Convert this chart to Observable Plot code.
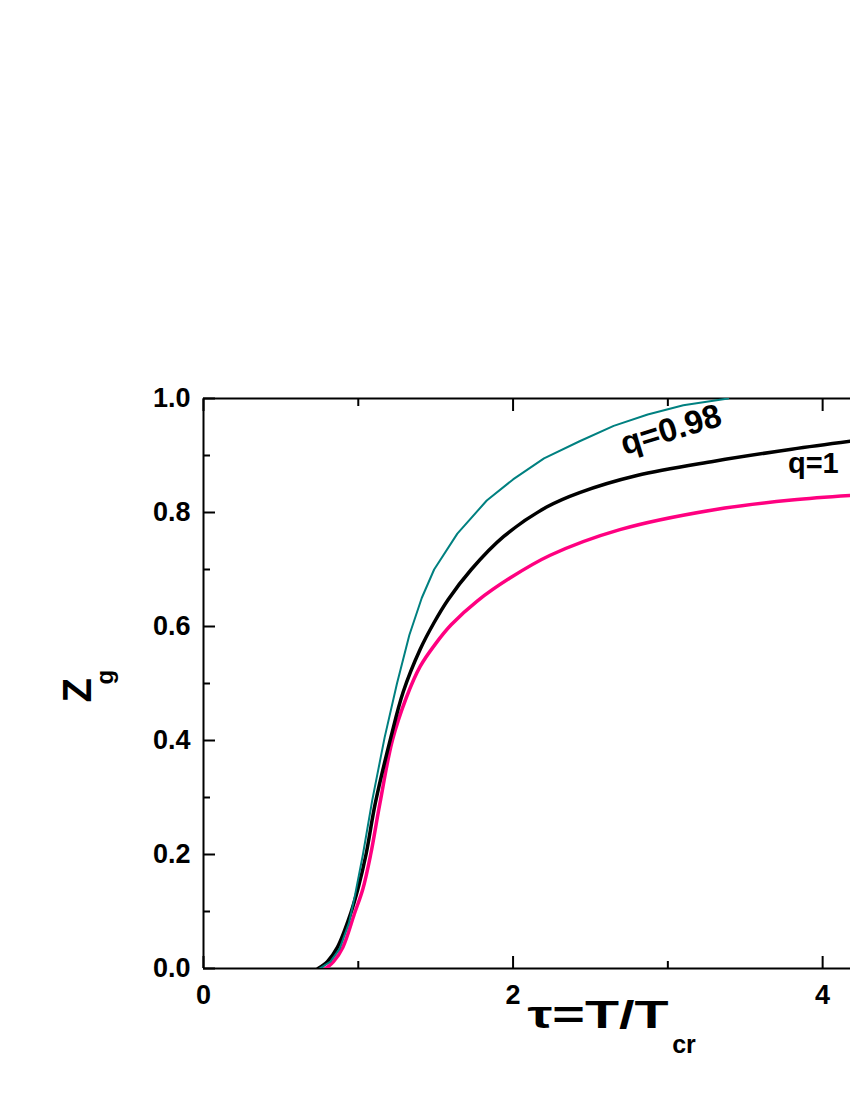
<!DOCTYPE html>
<html><head><meta charset="utf-8">
<script src="https://cdn.jsdelivr.net/npm/d3@7"></script>
<script src="https://cdn.jsdelivr.net/npm/@observablehq/plot@0.6"></script>
<style>body{margin:0;background:#fff}</style>
</head><body><div id="chart"></div>
<script>
// q = 0.98 (teal)
const tauTeal = [0.75,0.82,0.88,0.94,0.98,1.03,1.09,1.17,1.25,1.33,1.41,1.49,1.64,1.83,2.0,2.2,2.43,2.65,2.87,3.1,3.39];
const zTeal   = [0,0.012,0.035,0.08,0.13,0.2,0.295,0.405,0.5,0.585,0.65,0.7,0.763,0.821,0.858,0.895,0.925,0.952,0.972,0.988,1.0];
// q = 1 (black)
const tauBlack = [0.74,0.8,0.865,0.95,1.0,1.05,1.11,1.21,1.29,1.4,1.49,1.58,1.73,1.94,2.22,2.43,2.8,3.3,3.8,4.18];
const zBlack   = [0,0.012,0.037,0.096,0.142,0.2,0.29,0.405,0.485,0.56,0.607,0.647,0.7,0.758,0.81,0.835,0.865,0.89,0.911,0.925];
// third curve (pink)
const tauPink = [0.79,0.84,0.9,0.975,1.03,1.08,1.14,1.22,1.31,1.4,1.5,1.6,1.77,1.98,2.24,2.69,3.3,3.8,4.18];
const zPink   = [0,0.012,0.037,0.096,0.14,0.2,0.29,0.4,0.475,0.53,0.57,0.603,0.645,0.685,0.725,0.77,0.805,0.822,0.83];

const xMajor = [0,2,4];
const xMinor = [1,3];
const yMajor = [0,0.2,0.4,0.6,0.8,1.0];
const yMinor = [0.1,0.3,0.5,0.7,0.9];

const labels = [
  {tau: 3.02, z: 0.945, text: "q=0.98", rotate: -17, size: 33},
  {tau: 3.94, z: 0.886, text: "q=1", rotate: 0, size: 29}
];

const toRows = (ts, zs) => ts.map((t, i) => ({tau: t, z: zs[i]}));
const font = "'Liberation Sans', Arial, sans-serif";

const chart = Plot.plot({
  width: 850, height: 1100,
  marginLeft: 203, marginRight: 0, marginTop: 398, marginBottom: 132,
  x: {domain: [0, 4.18]},
  y: {domain: [0, 1]},
  style: {fontFamily: font, background: "white", color: "black"},
  marks: [
    Plot.ruleY([0, 1], {stroke: "black", strokeWidth: 2}),
    Plot.ruleX([0], {stroke: "black", strokeWidth: 2}),
    Plot.axisX({ticks: xMajor, anchor: "bottom", tickSize: -12, fill: "none", strokeWidth: 2, label: null}),
    Plot.axisX({ticks: xMinor, anchor: "bottom", tickSize: -7, fill: "none", strokeWidth: 2, label: null}),
    Plot.axisX({ticks: xMajor, anchor: "top", tickSize: -12, fill: "none", strokeWidth: 2, label: null}),
    Plot.axisX({ticks: xMinor, anchor: "top", tickSize: -7, fill: "none", strokeWidth: 2, label: null}),
    Plot.axisY({ticks: yMajor, anchor: "left", tickSize: -12, fill: "none", strokeWidth: 2, label: null}),
    Plot.axisY({ticks: yMinor, anchor: "left", tickSize: -7, fill: "none", strokeWidth: 2, label: null}),
    Plot.axisX({ticks: xMajor, anchor: "bottom", tickSize: 0, tickPadding: 16, fontSize: 27, fontWeight: "bold", label: null, tickFormat: d3.format("d")}),
    Plot.axisY({ticks: yMajor, anchor: "left", tickSize: 0, tickPadding: 13, fontSize: 27, fontWeight: "bold", label: null, tickFormat: d3.format(".1f")}),
    Plot.line(toRows(tauPink, zPink), {x: "tau", y: "z", stroke: "#ff0080", strokeWidth: 3.5, curve: "catmull-rom", clip: true}),
    Plot.line(toRows(tauBlack, zBlack), {x: "tau", y: "z", stroke: "black", strokeWidth: 3.5, curve: "catmull-rom", clip: true}),
    Plot.line(toRows(tauTeal, zTeal), {x: "tau", y: "z", stroke: "#008080", strokeWidth: 2, curve: "linear", clip: true}),
    Plot.text(labels, {x: "tau", y: "z", text: "text", rotate: "rotate", fontSize: "size", fontWeight: "bold", fill: "black"}),
    Plot.text(["Z"], {frameAnchor: "left", dx: -125, dy: 19, rotate: -90, fontSize: 40, fontWeight: "bold"}),
    Plot.text(["g"], {frameAnchor: "left", dx: -98, dy: 1, rotate: -90, fontSize: 24, fontWeight: "bold"}),
    Plot.text(["τ=T/T"], {frameAnchor: "bottom", dx: 71, dy: 59, fontSize: 38, fontWeight: "bold"}),
    Plot.text(["cr"], {frameAnchor: "bottom", dx: 157, dy: 84, fontSize: 25, fontWeight: "bold"})
  ]
});
d3.select(chart).selectAll("text")
  .filter(function() { return this.textContent === "τ=T/T"; })
  .attr("textLength", 141).attr("lengthAdjust", "spacingAndGlyphs");
document.getElementById("chart").appendChild(chart);
</script>
</body></html>
